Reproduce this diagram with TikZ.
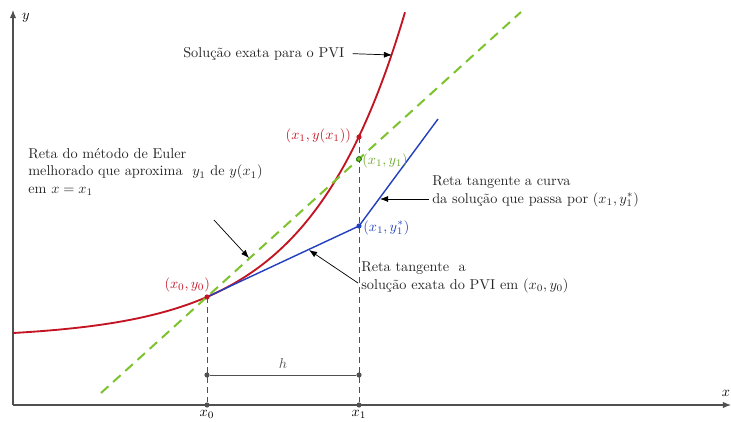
\documentclass[tikz,border=0pt]{standalone}
\usepackage{amsmath}
\usepackage{tikz}
\usetikzlibrary{arrows.meta,positioning,calc}
\definecolor{solred}{RGB}{195,20,35}
\definecolor{eulergreen}{RGB}{125,195,45}
\definecolor{tanblue}{RGB}{35,65,190}
\definecolor{axisgray}{RGB}{80,80,80}

\begin{document}
\begin{tikzpicture}[
  x=0.7pt, y=-0.7pt,
  axis/.style={draw=axisgray, line width=0.8pt, -{Latex[length=2mm, width=1.6mm]}},
  guide/.style={draw=axisgray, line width=0.6pt, dash pattern=on 4pt off 3pt},
  exact/.style={draw=solred, line width=1.3pt},
  euler/.style={draw=eulergreen, line width=1.4pt, dash pattern=on 7pt off 4.5pt},
  tangent/.style={draw=tanblue, line width=1pt},
  pnt/.style={circle, inner sep=0pt, minimum size=3.6pt, fill=#1},
  note/.style={align=left, text=black!85, inner sep=0pt},
  arrow/.style={-{Latex[length=2mm, width=1.5mm]}, line width=0.5pt}
]
\useasboundingbox (0,0) rectangle (731,421);

% axes
\coordinate (O) at (13,405);
\coordinate (xend) at (731,405);
\coordinate (yend) at (13,10);
\draw[axis] (O) -- (xend);
\draw[axis] (O) -- (yend);
\node[anchor=base] (ylab) at (26,19) {$y$};
\node[anchor=base east, inner sep=0.5pt] (xlab) at (731,396) {$x$};

% points
\coordinate (P0) at (207,297);
\coordinate (Q1) at (359,137);
\coordinate (E1) at (359,159);
\coordinate (S1) at (359,226);
\coordinate (tB) at (438,119);
\coordinate (gA) at (101,393);
\coordinate (gB) at (521,12);
\node[pnt=axisgray] (x0) at (207,405) {};
\node[pnt=axisgray] (x1) at (359,405) {};
\node[anchor=base] (x0lab) at (207,416) {$x_0$};
\node[anchor=base] (x1lab) at (359,416) {$x_1$};

% guides and step h
\draw[guide] (P0) -- (x0);
\draw[guide] (Q1) -- (x1);
\node[pnt=axisgray] (h0) at (207,375) {};
\node[pnt=axisgray] (h1) at (359,375) {};
\draw[axisgray, line width=0.6pt] (h0) -- (h1) node[midway, above=1pt] (hlab) {$h$};

% curves
\draw[exact] plot[domain=13:405, samples=120] (\x,{333-5.52*(exp(0.0104*(\x-13))-1)});
\draw[euler] (gA) -- (gB);
\draw[tangent] (P0) -- (S1) -- (tB);

\node[pnt=solred] (p0) at (P0) {};
\node[pnt=solred] (q1) at (Q1) {};
\node[pnt=eulergreen, draw=green!40!black, line width=0.5pt, minimum size=3.4pt] (e1) at (E1) {};
\node[pnt=tanblue] (s1) at (S1) {};

\node[anchor=base east, text=solred] (p0lab) at (215,288) {$(x_0,y_0)$};
\node[anchor=base east, text=solred] (q1lab) at (356,139) {$(x_1,y(x_1))$};
\node[anchor=base west, text=eulergreen!85!black, inner sep=0pt] (e1lab) at (362,164) {$(x_1,y_1)$};
\node[anchor=base west, text=tanblue, inner sep=0pt] (s1lab) at (363,231) {$(x_1,y_1^*)$};

% notes
\node[note, anchor=base west] (exactnote) at (183,57) {Solução exata para o PVI};
\coordinate (tipA) at (392,55);
\draw[arrow, shorten <=5.6pt] (exactnote.east) -- (tipA);

\node[note, anchor=base west] (eulernote) at (28,193) {Reta do método de Euler\\ melhorado que aproxima~ $y_1$ de $y(x_1)$\\ em $x=x_1$};
\coordinate (eulerfrom) at (214,220);
\coordinate (tipB) at (249,258);
\draw[arrow] (eulerfrom) -- (tipB);

\node[note, anchor=base west] (curvenote) at (432,203) {Reta tangente a curva\\ da solução que passa por $(x_1,y_1^*)$};
\coordinate (tipC) at (380,199);
\draw[arrow, shorten <=2pt] (curvenote.west |- tipC) -- (tipC);

\node[note, anchor=base west] (exactnote2) at (361,289) {Reta tangente~ a\\ solução exata do PVI em $(x_0,y_0)$};
\coordinate (tangfrom) at (358,283);
\coordinate (tipD) at (309,250);
\draw[arrow] (tangfrom) -- (tipD);
\end{tikzpicture}
\end{document}
